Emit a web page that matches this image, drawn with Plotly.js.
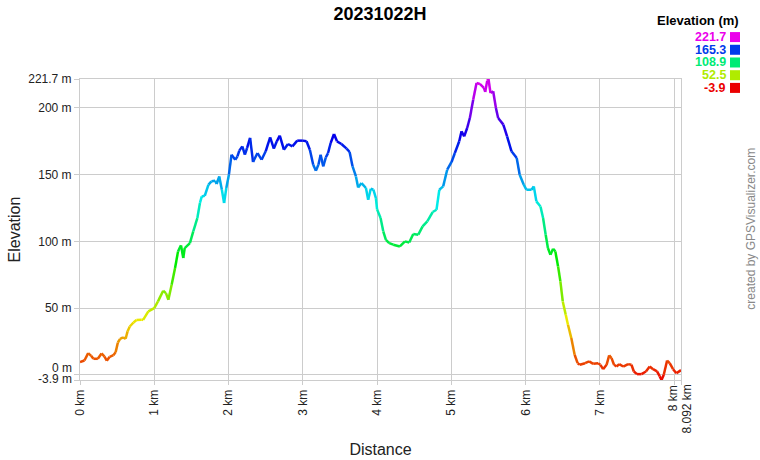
<!DOCTYPE html>
<html>
<head>
<meta charset="utf-8">
<script src="https://cdn.plot.ly/plotly-3.0.1.min.js"></script>
<style>html,body{margin:0;padding:0;background:#fff;}#chart{width:760px;height:460px;}</style>
</head>
<body>
<div id="chart"></div>
<script>
// ---- data ----
const chartTitle = '20231022H';
const distKm = [
  0.00, 0.06, 0.11, 0.15, 0.18, 0.24, 0.29, 0.33, 0.36, 0.40,
  0.45, 0.48, 0.51, 0.54, 0.58, 0.615, 0.64, 0.67, 0.72, 0.76,
  0.83, 0.85, 0.92, 1.00, 1.05, 1.12, 1.157, 1.19, 1.234, 1.28,
  1.32, 1.36, 1.39, 1.41, 1.48, 1.525, 1.58, 1.615, 1.64, 1.68,
  1.73, 1.77, 1.82, 1.84, 1.875, 1.91, 1.94, 1.97, 2.005, 2.04,
  2.09, 2.12, 2.145, 2.185, 2.22, 2.25, 2.29, 2.33, 2.39, 2.445,
  2.50, 2.56, 2.61, 2.65, 2.69, 2.745, 2.80, 2.86, 2.925, 3.00,
  3.05, 3.095, 3.14, 3.176, 3.21, 3.24, 3.275, 3.31, 3.34, 3.375,
  3.42, 3.46, 3.52, 3.59, 3.63, 3.67, 3.715, 3.745, 3.79, 3.85,
  3.88, 3.915, 3.95, 3.984, 4.00, 4.047, 4.083, 4.119, 4.164, 4.218,
  4.307, 4.375, 4.433, 4.487, 4.555, 4.613, 4.676, 4.748, 4.80, 4.838,
  4.89, 4.944, 5.003, 5.047, 5.106, 5.137, 5.173, 5.213, 5.249, 5.294,
  5.339, 5.384, 5.438, 5.456, 5.483, 5.50, 5.527, 5.563, 5.60, 5.63,
  5.70, 5.75, 5.81, 5.88, 5.92, 5.975, 6.01, 6.08, 6.11, 6.145,
  6.20, 6.235, 6.27, 6.30, 6.334, 6.37, 6.40, 6.437, 6.468, 6.50,
  6.54, 6.57, 6.615, 6.66, 6.70, 6.73, 6.80, 6.855, 6.91, 6.976,
  7.007, 7.043, 7.09, 7.125, 7.157, 7.19, 7.225, 7.26, 7.314, 7.38,
  7.425, 7.457, 7.50, 7.56, 7.62, 7.67, 7.716, 7.77, 7.806, 7.83,
  7.86, 7.905, 7.94, 7.985, 8.03, 8.092
];
const elevM = [
  9.5, 10.7, 16.2, 14.2, 12, 12, 16, 13.7, 10.5, 13.5,
  14.7, 17, 24.2, 27, 28, 27, 32.5, 36.2, 39.2, 41,
  41.2, 41.2, 47.5, 50, 55, 63, 61.2, 56.2, 67.5, 80,
  92.5, 97, 87.5, 95, 98.7, 107.5, 117.5, 128.8, 133.7, 134.2,
  142.5, 145, 145.5, 143, 148.7, 138.7, 128.8, 140, 150, 165,
  161.2, 163.7, 168, 171.2, 165, 170, 177.5, 159.5, 166.2, 161.2,
  167.5, 178, 169.5, 175, 179.2, 168.7, 173, 171.2, 175.5, 175.5,
  175, 168.7, 157.5, 153, 157.5, 165, 156.2, 163, 166.2, 173.7,
  180.5, 175, 173, 169.5, 167, 156.2, 148.7, 140.4, 143.7, 140,
  131.2, 139.5, 138.7, 132.5, 124, 117.5, 107.5, 101.2, 98.7, 97.5,
  96.2, 100, 99.2, 105.5, 105, 111.2, 115, 122, 123.7, 138.7,
  141.2, 153.7, 159.5, 166.2, 175, 182.5, 178.7, 185, 192.5, 206.2,
  218.7, 218, 215, 212, 220.5, 221.7, 211.2, 212.5, 200, 192.5,
  187.5, 178.7, 167.5, 162.5, 150, 142.5, 138.7, 138.7, 141.2, 130,
  126.2, 117.5, 105, 95, 90, 94.5, 92.5, 81.2, 70, 55,
  45, 37.5, 27.5, 15, 8.7, 7.5, 8.7, 10, 8.2, 8.7,
  7.5, 4.2, 7.5, 14.5, 12.5, 7.5, 6.2, 8, 6.2, 8,
  7.5, 2.5, 0.5, 0.5, 2.5, 6.2, 4.2, 2.5, -1.2, -3.9,
  0, 10.7, 8.7, 4.2, 1.2, 3.5
];
const elevMin = -3.9;
const elevMax = 221.7;
const totalKm = 8.092;
const yTickVals = [-3.9, 0, 50, 100, 150, 200, 221.7];
const yTickText = ['', '', '50 m', '100 m', '150 m', '200 m', '221.7 m'];
const xTickVals = [0, 1, 2, 3, 4, 5, 6, 7, 8, 8.092];
const xTickText = ['0 km', '1 km', '2 km', '3 km', '4 km', '5 km', '6 km', '7 km', '', ''];
const legendVals = [221.7, 165.3, 108.9, 52.5, -3.9];
const legendLabels = ['221.7', '165.3', '108.9', '52.5', '-3.9'];

// ---- helpers ----
const FONT = 'Liberation Sans, Arial, sans-serif';
const W = 760, H = 460;
const M = {l: 80, r: 79, t: 79.4, b: 79.8};
const PW = W - M.l - M.r, PH = H - M.t - M.b;
const px2x = p => (p - M.l) / PW;
const px2y = p => (H - M.b - p) / PH;

function colorFor(v) {
  let t = (v - elevMin) / (elevMax - elevMin);
  t = Math.max(0, Math.min(1, t));
  const h = 300 * t;
  return 'hsl(' + h.toFixed(1) + ',100%,46%)';
}

// ---- traces: one short segment per pair of points, coloured by elevation ----
const traces = [];
for (let i = 0; i < distKm.length - 1; i++) {
  traces.push({
    type: 'scatter', mode: 'lines',
    x: [distKm[i], distKm[i + 1]],
    y: [elevM[i], elevM[i + 1]],
    line: {color: colorFor((elevM[i] + elevM[i + 1]) / 2), width: 2.5},
    hoverinfo: 'skip', showlegend: false
  });
}

// ---- annotations ----
const annotations = [];
const tickFont = {family: FONT, size: 12, color: '#222'};
// special tick labels (crowded ones, nudged apart as in the reference)
annotations.push({xref: 'paper', yref: 'y', x: 0, y: 0, text: '0 m', showarrow: false, borderpad: 0,
  xanchor: 'right', yanchor: 'middle', xshift: -7, yshift: 7, font: tickFont});
annotations.push({xref: 'paper', yref: 'y', x: 0, y: -3.9, text: '-3.9 m', showarrow: false, borderpad: 0,
  xanchor: 'right', yanchor: 'middle', xshift: -7, yshift: 1, font: tickFont});
annotations.push({xref: 'x', yref: 'paper', x: 8, y: 0, text: '8 km', showarrow: false, textangle: -90, borderpad: 0,
  xanchor: 'center', yanchor: 'top', xshift: -1, yshift: -4, font: tickFont});
annotations.push({xref: 'x', yref: 'paper', x: totalKm, y: 0, text: '8.092 km', showarrow: false, textangle: -90, borderpad: 0,
  xanchor: 'center', yanchor: 'top', xshift: 5, yshift: -4, font: tickFont});

// colour legend
annotations.push({xref: 'paper', yref: 'paper', x: px2x(740), y: px2y(21), text: '<b>Elevation (m)</b>', borderpad: 0,
  showarrow: false, xanchor: 'right', yanchor: 'middle', font: {family: FONT, size: 13, color: '#000'}});
const shapes = [];
legendVals.forEach((v, i) => {
  const cy = 37.5 + i * 12.7;
  annotations.push({xref: 'paper', yref: 'paper', x: px2x(727), y: px2y(cy), text: '<b>' + legendLabels[i] + '</b>',
    showarrow: false, borderpad: 0, xanchor: 'right', yanchor: 'middle', font: {family: FONT, size: 12.5, color: colorFor(v)}});
  shapes.push({type: 'rect', xref: 'paper', yref: 'paper', x0: px2x(730), x1: px2x(740),
    y0: px2y(cy + 5), y1: px2y(cy - 5), fillcolor: colorFor(v), line: {width: 0}});
});
// watermark
annotations.push({xref: 'paper', yref: 'paper', x: px2x(751), y: px2y(229), text: 'created by GPSVisualizer.com',
  showarrow: false, borderpad: 0, textangle: -90, xanchor: 'center', yanchor: 'middle', font: {family: FONT, size: 12, color: '#888'}});

const layout = {
  width: W, height: H,
  margin: M,
  paper_bgcolor: '#fff', plot_bgcolor: '#fff',
  font: {family: FONT, size: 12, color: '#222'},
  title: {text: chartTitle, x: 0.5, xref: 'container', xanchor: 'center', y: 1 - 14 / H, yanchor: 'middle',
    font: {family: FONT, size: 18, color: '#000', weight: 'bold'}},
  xaxis: {
    range: [0, totalKm], tickvals: xTickVals, ticktext: xTickText, tickangle: -90,
    showgrid: true, gridcolor: '#cccccc', gridwidth: 1, zeroline: false,
    showline: true, linecolor: '#cccccc', mirror: true,
    ticks: 'outside', ticklen: 4, tickcolor: '#cccccc',
    tickfont: tickFont,
    title: {text: 'Distance', font: {family: FONT, size: 16, color: '#222'}, standoff: 28},
    automargin: false, fixedrange: true
  },
  yaxis: {
    range: [elevMin, elevMax], tickvals: yTickVals, ticktext: yTickText,
    showgrid: true, gridcolor: '#cccccc', gridwidth: 1, zeroline: false,
    showline: true, linecolor: '#cccccc', mirror: true,
    ticks: 'outside', ticklen: 5, tickcolor: '#cccccc',
    tickfont: tickFont,
    title: {text: 'Elevation', font: {family: FONT, size: 16, color: '#222'}, standoff: 3},
    automargin: false, fixedrange: true
  },
  annotations: annotations,
  shapes: shapes,
  showlegend: false
};

Plotly.newPlot('chart', traces, layout, {staticPlot: true, displayModeBar: false});
</script>
</body>
</html>
